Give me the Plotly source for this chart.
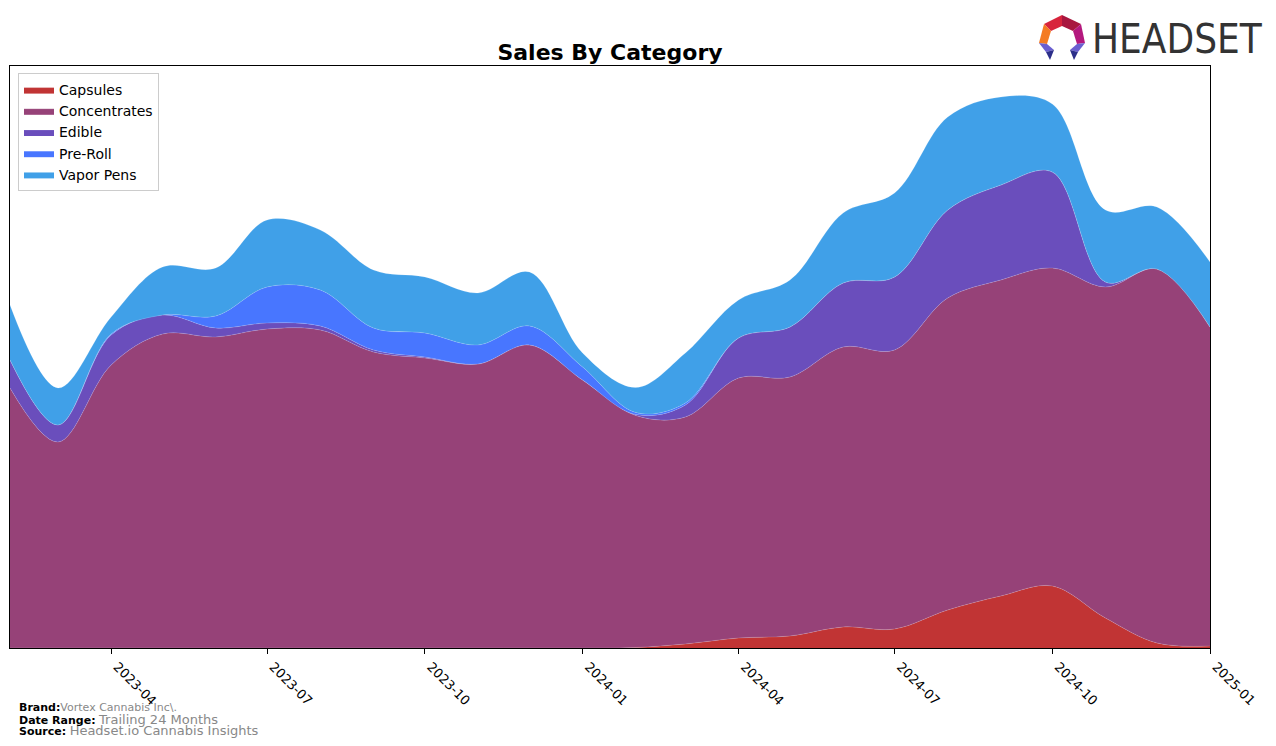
import plotly.graph_objects as go

# monthly points, Feb 2023 .. Jan 2025
months = ["2023-02-01", "2023-03-01", "2023-04-01", "2023-05-01", "2023-06-01", "2023-07-01",
          "2023-08-01", "2023-09-01", "2023-10-01", "2023-11-01", "2023-12-01", "2024-01-01",
          "2024-02-01", "2024-03-01", "2024-04-01", "2024-05-01", "2024-06-01", "2024-07-01",
          "2024-08-01", "2024-09-01", "2024-10-01", "2024-11-01", "2024-12-01", "2025-01-01"]

# sales per category (relative units)
capsules = [0, 0, 0, 0, 0, 0, 0, 0, 0, 0, 0, 0,
            0.5, 4, 10, 12, 21, 19, 38, 52, 62, 30, 5, 2]
concentrates = [260, 206, 283, 314, 311, 319, 318, 296, 290, 284, 303, 268,
                232, 227, 260, 259, 280, 279, 312, 316, 318, 331, 374, 319]
edible = [28, 17, 30, 19, 9, 6, 4, 2, 1, 0, 0, 0,
          1, 12, 40, 50, 64, 73, 88, 95, 96, 5, 0, 0]
preroll = [0, 0, 1, 0, 12, 36, 36, 22, 24, 19, 19, 13,
           2, 2, 0, 0, 0, 0, 0, 0, 0, 0, 0, 0]
vapor_pens = [55, 37, 17, 48, 48, 67, 60, 58, 56, 52, 54, 14,
              25, 50, 38, 47, 70, 84, 93, 88, 68, 72, 62, 65]

tick_vals = ["2023-04-01", "2023-07-01", "2023-10-01", "2024-01-01",
             "2024-04-01", "2024-07-01", "2024-10-01", "2025-01-01"]
tick_text = ["2023-04", "2023-07", "2023-10", "2024-01",
             "2024-04", "2024-07", "2024-10", "2025-01"]

series = [
    ("Capsules", capsules, "#C13434"),
    ("Concentrates", concentrates, "#964278"),
    ("Edible", edible, "#6A4EBC"),
    ("Pre-Roll", preroll, "#4876FF"),
    ("Vapor Pens", vapor_pens, "#40A0E8"),
]

# page has an 8px body margin, so the figure is drawn 8px in from the corner
W, H = 1268, 738
L, T, PW, PH = 2, 58, 1200, 582

def px(xp, yp):
    # page pixel -> paper coords
    return (xp - 8 - L) / PW, 1 - (yp - 8 - T) / PH

fig = go.Figure()
for name, vals, col in series:
    fig.add_trace(go.Scatter(
        x=months, y=vals, name=name, mode="lines",
        stackgroup="one", fillcolor=col,
        line=dict(shape="spline", smoothing=1.0, width=0.6, color="rgba(255,255,255,0.25)"),
        hoverinfo="x+y+name",
    ))

lx, ly = px(18, 73)
fig.update_layout(
    width=W, height=H,
    margin=dict(l=L, r=W - L - PW, t=T, b=H - T - PH),
    paper_bgcolor="white", plot_bgcolor="white",
    font=dict(family="DejaVu Sans", size=13, color="black"),
    title=dict(text="<b>Sales By Category</b>", x=(610 - 8) / W, xanchor="center",
               y=1 - (52 - 8) / H, yanchor="middle", font=dict(size=22, family="DejaVu Sans")),
    showlegend=True,
    legend=dict(x=lx, y=ly, xanchor="left", yanchor="top", traceorder="normal",
                bordercolor="#cccccc", borderwidth=1, bgcolor="rgba(255,255,255,0.8)",
                font=dict(size=14, family="DejaVu Sans"), tracegroupgap=2),
)

fig.update_xaxes(
    type="date", range=["2023-02-01", "2025-01-01"],
    tickvals=tick_vals, ticktext=tick_text, tickangle=45,
    ticks="outside", ticklen=5, tickcolor="black", ticklabelshift=6,
    showline=True, linecolor="black", linewidth=1, mirror=True,
    showgrid=False, zeroline=False, tickfont=dict(size=13),
)
fig.update_yaxes(
    range=[0, 582], showticklabels=False, ticks="",
    showline=True, linecolor="black", linewidth=1, mirror=True,
    showgrid=False, zeroline=False,
)

# footer
foot = [
    ("Brand:", "Vortex Cannabis Inc\\.", 11, 707),
    ("Date Range:", "Trailing 24 Months", 13, 719),
    ("Source:", "Headset.io Cannabis Insights", 13, 730),
]
for label, val, vsize, ypx in foot:
    fx, fy = px(17, ypx)
    sep = "" if label == "Brand:" else " "
    fig.add_annotation(
        xref="paper", yref="paper", x=fx, y=fy,
        xanchor="left", yanchor="middle", showarrow=False,
        text=f"<b>{label}</b>{sep}<span style='color:#888888;font-size:{vsize}px'>{val}</span>",
        font=dict(size=11, family="DejaVu Sans", color="black"),
    )

# headset logo
def poly(pts, col):
    d = ""
    for i, (a, b) in enumerate(pts):
        xx, yy = px(a, b)
        d += ("M" if i == 0 else "L") + f"{xx:.5f},{yy:.5f} "
    fig.add_shape(type="path", path=d + "Z", xref="paper", yref="paper",
                  fillcolor=col, line=dict(width=0), layer="above")

poly([(1062, 15), (1044, 24), (1051, 31), (1062, 26)], "#D8243C")
poly([(1062, 15), (1081, 24), (1073, 31), (1062, 26)], "#A8173F")
poly([(1044, 24), (1039, 43), (1047, 44), (1051, 31)], "#F47B22")
poly([(1081, 24), (1085, 43), (1077, 44), (1073, 31)], "#B4187E")
poly([(1039, 43), (1047, 44), (1054, 50), (1046, 52)], "#6A5FD0")
poly([(1046, 52), (1054, 50), (1050, 60)], "#2C2F8A")
poly([(1085, 43), (1077, 44), (1070, 50), (1078, 52)], "#6A5FD0")
poly([(1078, 52), (1070, 50), (1074, 60)], "#2C2F8A")

hx, hy = px(1090, 39)
fig.add_annotation(
    xref="paper", yref="paper", x=hx, y=hy,
    xanchor="left", yanchor="middle", showarrow=False,
    text="HEADSET",
    font=dict(size=40, family="DejaVu Sans Condensed, Roboto, sans-serif", color="#333333"),
)

fig.write_html("out.html")
